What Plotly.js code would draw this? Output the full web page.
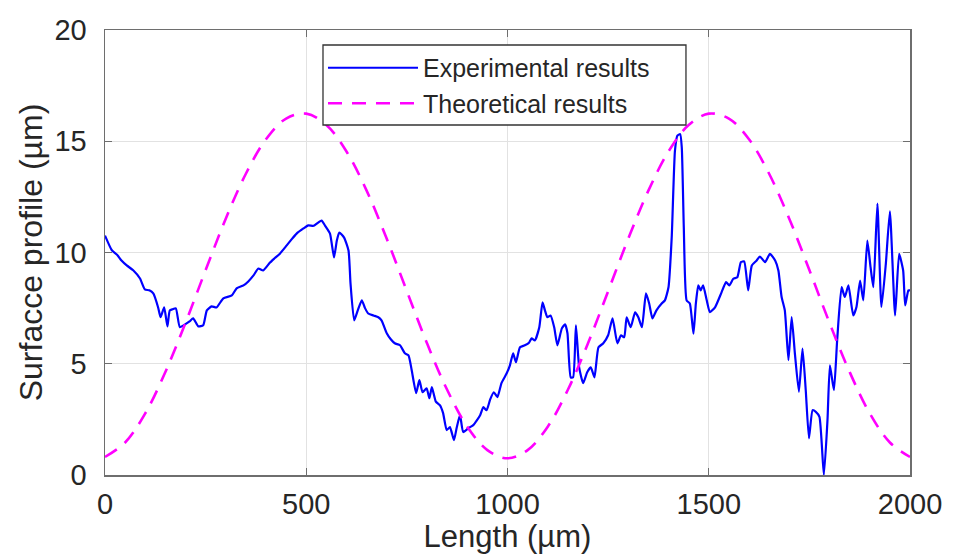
<!DOCTYPE html>
<html>
<head>
<meta charset="utf-8">
<script src="https://cdn.plot.ly/plotly-3.0.1.min.js"></script>
<style>
html,body{margin:0;padding:0;background:#fff;}
#chart{width:954px;height:554px;}
</style>
</head>
<body>
<div id="chart"></div>
<script>
const expX = [0,17,30,41,54,70,87,99,110,120,132,138,147,155,161,168,176,186,199,210,219,232,244,253,265,277,294,315,327,344,356,369,381,393,410,422,435,451,464,476,493,505,518,526,538,547,559,569,576,582,594,605,610,619,628,638,646,654,667,679,687,700,710,720,733,745,754,762,773,781,789,799,806,812,822,832,840,849,857,867,874,882,890,903,915,932,940,948,957,966,975,985,998,1006,1014,1021,1031,1043,1054,1060,1068,1079,1087,1093,1099,1107,1116,1124,1135,1143,1149,1157,1163,1170,1178,1188,1198,1207,1216,1226,1238,1250,1261,1273,1282,1290,1296,1306,1317,1325,1334,1344,1352,1360,1370,1383,1391,1400,1408,1416,1422,1429,1433,1438,1445,1453,1462,1468,1474,1480,1486,1495,1503,1516,1532,1543,1551,1561,1571,1580,1588,1598,1607,1619,1627,1640,1652,1665,1673,1681,1689,1698,1706,1714,1724,1733,1741,1749,1758,1766,1775,1786,1795,1801,1811,1819,1830,1838,1847,1859,1867,1876,1884,1894,1902,1909,1919,1929,1940,1950,1963,1973,1983,1988,1996,2000];
const expY = [10.76,10.1,9.9,9.64,9.42,9.2,8.83,8.34,8.3,8.16,7.53,7.09,7.53,6.68,7.4,7.45,7.49,6.64,6.77,6.9,7.04,6.68,6.73,7.4,7.58,7.53,7.94,8.07,8.39,8.52,8.7,8.97,9.28,9.19,9.55,9.75,9.96,10.31,10.6,10.85,11.08,11.22,11.2,11.3,11.43,11.2,10.85,9.78,10.54,10.9,10.67,10.09,8.6,6.95,7.4,7.85,7.5,7.26,7.17,7.09,6.95,6.37,6.1,5.92,5.83,5.47,5.38,4.71,3.68,4.26,3.72,3.9,3.45,3.95,3.3,3.14,2.78,2.02,2.15,1.57,2.15,2.69,1.93,2.11,2.24,2.69,3.05,2.91,3.4,3.72,3.5,4.13,4.57,4.93,5.47,5.07,5.74,5.83,5.96,6.14,6.05,6.64,7.76,7.4,7.09,7.17,6.64,5.83,6.59,6.77,6.37,4.39,4.39,6.73,4.84,4.13,4.62,4.84,4.39,5.74,5.92,6.28,7.04,5.92,6.28,6.19,7.09,6.64,7.31,7.09,6.64,8.16,7.71,7.04,7.4,7.71,7.85,8.44,10.69,14.57,15.25,15.32,14.72,11.13,7.85,7.71,6.35,7.71,8.52,8.3,8.52,7.85,7.32,7.55,8.22,8.67,8.52,8.82,8.89,9.57,9.6,8.3,9.42,9.64,9.82,9.57,9.94,9.64,9.19,8.0,7.4,5.16,7.1,5.46,3.74,5.68,3.81,1.65,2.91,2.84,2.61,0,2.47,4.93,3.81,6.05,8.44,8.0,8.52,7.17,7.55,8.74,7.85,10.54,9.34,8.44,12.2,7.55,9.5,11.85,7.17,9.94,9.19,7.62,8.3,8.3];

// Theoretical results
const theoX = [0,50,100,150,200,250,300,350,400,450,500,550,600,650,700,750,800,850,900,950,1000,1050,1100,1150,1200,1250,1300,1350,1400,1450,1500,1550,1600,1650,1700,1750,1800,1850,1900,1950,2000];
const theoY = [0.81,1.46,2.77,4.63,6.84,9.21,11.52,13.54,15.09,16.02,16.24,15.73,14.54,12.78,10.62,8.26,5.92,3.83,2.17,1.12,0.75,1.12,2.17,3.83,5.92,8.26,10.62,12.78,14.54,15.73,16.24,16.02,15.09,13.54,11.52,9.21,6.84,4.63,2.77,1.46,0.81];

const seriesNames = ["Experimental results", "Theoretical results"];
const xTickVals = [0,500,1000,1500,2000];
const yTickVals = [0,5,10,15,20];
const xTitle = "Length (µm)";
const yTitle = "Surfacce profile (µm)";

const FONT = '"Liberation Sans", Arial, Helvetica, sans-serif';
const TXT = '#262626';

const traces = [
  {x: expX, y: expY, name: seriesNames[0], type: 'scatter', mode: 'lines',
   line: {color: '#0000ff', width: 2.2, shape: 'spline', smoothing: 0.5}},
  {x: theoX, y: theoY, name: seriesNames[1], type: 'scatter', mode: 'lines',
   line: {color: '#ff00ff', width: 2.6, dash: '14px,10px', shape: 'spline'}}
];

const axisCommon = {
  showline: true, linecolor: '#6e6e6e', linewidth: 1.5, mirror: 'allticks',
  ticks: 'inside', ticklen: 7, tickwidth: 1.2, tickcolor: '#6e6e6e',
  showgrid: true, gridcolor: '#e2e2e2', gridwidth: 1, zeroline: false,
  tickfont: {family: FONT, size: 29, color: TXT}
};

const layout = {
  width: 954, height: 554,
  margin: {l: 105, r: 44, t: 30, b: 79},
  paper_bgcolor: '#fff', plot_bgcolor: '#fff',
  font: {family: FONT, color: TXT},
  showlegend: true,
  xaxis: Object.assign({}, axisCommon, {
    range: [0, 2000], tickvals: xTickVals, ticklabelstandoff: 3,
    title: {text: xTitle, font: {family: FONT, size: 31, color: TXT}, standoff: 0}
  }),
  yaxis: Object.assign({}, axisCommon, {
    range: [0, 20], tickvals: yTickVals, ticklabelstandoff: 11,
    title: {text: yTitle, font: {family: FONT, size: 32, color: TXT}, standoff: 2}
  }),
  // legend frame (box behind the legend entries)
  shapes: [{
    type: 'rect', xref: 'paper', yref: 'paper', layer: 'above',
    x0: 0.2708, x1: 0.7217, y0: 0.7865, y1: 0.9663,
    fillcolor: '#ffffff', line: {color: '#333333', width: 1.3}
  }],
  legend: {
    x: 0.2708, y: 0.9663, xanchor: 'left', yanchor: 'top',
    bgcolor: 'rgba(0,0,0,0)', borderwidth: 0,
    font: {family: FONT, size: 25, color: TXT},
    itemwidth: 90, tracegroupgap: 0
  }
};

Plotly.newPlot('chart', traces, layout, {displayModeBar: false, staticPlot: true});
</script>
</body>
</html>
